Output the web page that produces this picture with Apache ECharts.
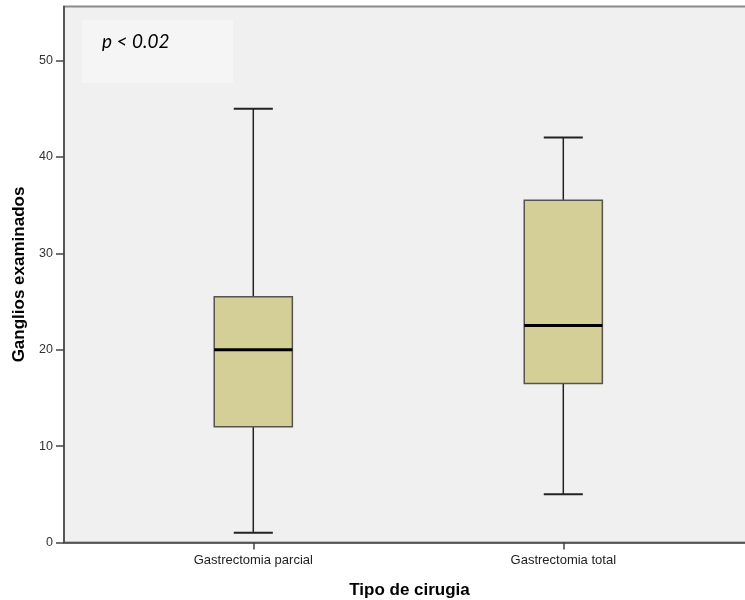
<!DOCTYPE html>
<html>
<head>
<meta charset="utf-8">
<script src="https://cdn.jsdelivr.net/npm/echarts@6/dist/echarts.min.js"></script>
<style>html,body{margin:0;padding:0;background:#fff}#c{width:745px;height:600px}</style>
</head>
<body>
<div id="c"></div>
<script>
const categories = ['Gastrectomia parcial', 'Gastrectomia total'];
const lowerWhisker = [1, 5];
const q1 = [12, 16.5];
const median = [20, 22.5];
const q3 = [25.5, 35.5];
const upperWhisker = [45, 42];
const yTicks = [0, 10, 20, 30, 40, 50];
const xTitle = 'Tipo de cirugia';
const yTitle = 'Ganglios examinados';
const annotation = 'p < 0.02';

const BOX_W = 0.252;

const seriesData = categories.map((c, i) => [i + 1, lowerWhisker[i], q1[i], median[i], q3[i], upperWhisker[i]]);

function renderItem(params, api) {
  const x = api.value(0);
  const pLo = api.coord([x, api.value(1)]);
  const pQ1 = api.coord([x, api.value(2)]);
  const pMed = api.coord([x, api.value(3)]);
  const pQ3 = api.coord([x, api.value(4)]);
  const pHi = api.coord([x, api.value(5)]);
  const w = api.size([BOX_W, 0])[0];
  const hw = w / 2, cw = w / 4;
  const cx = pLo[0];
  const wStyle = { stroke: '#222', lineWidth: 1.5 };
  return {
    type: 'group',
    children: [
      { type: 'line', shape: { x1: cx, y1: pLo[1], x2: cx, y2: pQ1[1] }, style: wStyle },
      { type: 'line', shape: { x1: cx, y1: pQ3[1], x2: cx, y2: pHi[1] }, style: wStyle },
      { type: 'line', shape: { x1: cx - cw, y1: pLo[1], x2: cx + cw, y2: pLo[1] }, style: { stroke: '#222', lineWidth: 2 } },
      { type: 'line', shape: { x1: cx - cw, y1: pHi[1], x2: cx + cw, y2: pHi[1] }, style: { stroke: '#222', lineWidth: 2 } },
      { type: 'rect', shape: { x: cx - hw, y: pQ3[1], width: w, height: pQ1[1] - pQ3[1] },
        style: { fill: '#d3cf97', stroke: '#55554d', lineWidth: 1.5 } },
      { type: 'line', shape: { x1: cx - hw, y1: pMed[1], x2: cx + hw, y2: pMed[1] }, style: { stroke: '#000', lineWidth: 3 } }
    ]
  };
}

const chart = echarts.init(document.getElementById('c'), null, { renderer: 'canvas' });
chart.setOption({
  animation: false,
  backgroundColor: '#ffffff',
  grid: {
    left: 64, top: 6.5, right: -10, bottom: 57.5,
    outerBoundsMode: 'none',
    show: true, backgroundColor: '#f0f0f0', borderColor: '#8a8a8a', borderWidth: 2
  },
  graphic: [
    { type: 'rect', left: 82, top: 20, shape: { width: 151, height: 63 }, style: { fill: '#f5f5f5' }, z: 0 },
    { type: 'text', left: 102, top: 32, style: { text: annotation, font: 'italic 19px Lato, "Open Sans", sans-serif', fill: '#000' }, z: 1 }
  ],
  xAxis: {
    type: 'value', min: 0.3894, max: 2.6184,
    name: xTitle, nameLocation: 'middle', nameGap: 39,
    nameTextStyle: { fontFamily: 'Liberation Sans, Arial, sans-serif', fontWeight: 'bold', fontSize: 17, color: '#000' },
    axisLine: { show: true, lineStyle: { color: '#444', width: 1.5 } },
    axisTick: { show: true, length: 7, customValues: [1, 2], lineStyle: { color: '#444', width: 1.5 } },
    axisLabel: {
      customValues: [1, 2], margin: 11,
      formatter: v => categories[Math.round(v) - 1] || '',
      fontFamily: 'Liberation Sans, Arial, sans-serif', fontSize: 13, color: '#222'
    },
    splitLine: { show: false }
  },
  yAxis: {
    type: 'value', min: 0, max: 55.6,
    name: yTitle, nameLocation: 'middle', nameGap: 35, nameRotate: 90,
    nameTextStyle: { fontFamily: 'Liberation Sans, Arial, sans-serif', fontWeight: 'bold', fontSize: 17, color: '#000' },
    axisLine: { show: true, lineStyle: { color: '#444', width: 1.5 } },
    axisTick: { show: true, length: 8, customValues: yTicks, lineStyle: { color: '#444', width: 1.5 } },
    axisLabel: {
      customValues: yTicks, margin: 11,
      fontFamily: 'Liberation Sans, Arial, sans-serif', fontSize: 12.5, color: '#333'
    },
    splitLine: { show: false }
  },
  series: [{
    type: 'custom',
    renderItem: renderItem,
    encode: { x: 0, y: [1, 2, 3, 4, 5] },
    data: seriesData,
    z: 5
  }]
});
</script>
</body>
</html>
